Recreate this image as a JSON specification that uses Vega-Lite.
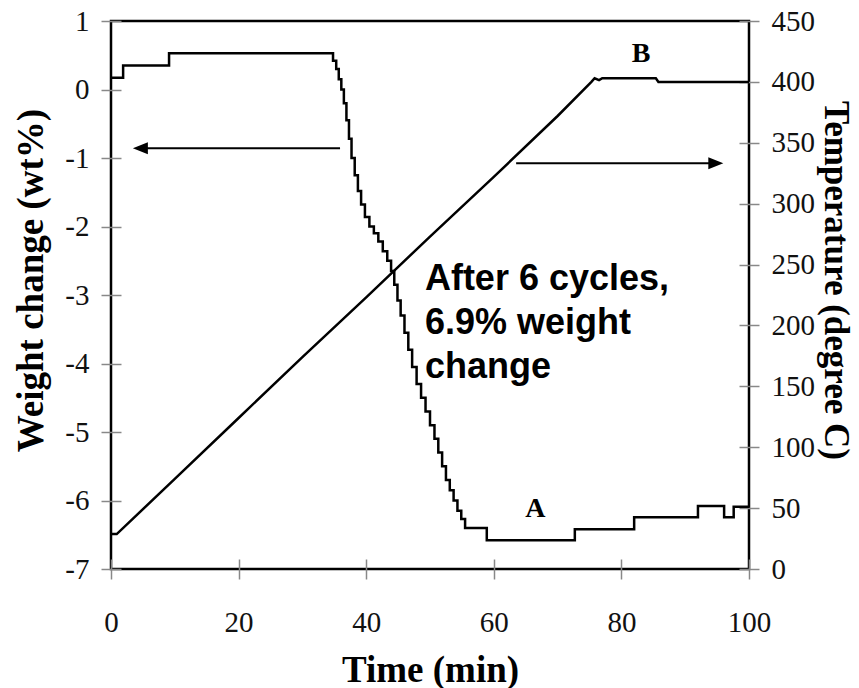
{
  "$schema": "https://vega.github.io/schema/vega-lite/v6.json",
  "width": 638,
  "height": 548,
  "autosize": "none",
  "padding": {"left": 111, "top": 21, "right": 110, "bottom": 119},
  "background": "white",
  "config": {
    "view": {"stroke": "#000", "strokeWidth": 2.5},
    "axis": {
      "grid": false, "domain": false, "offset": -10, "tickSize": 20,
      "tickColor": "#888", "tickWidth": 1.5, "labelFlush": false,
      "labelFont": "Liberation Serif", "labelFontSize": 29, "labelColor": "#111",
      "titleFont": "Liberation Serif", "titleFontSize": 37, "titleFontWeight": "bold", "titleColor": "#000",
      "labelExpr": "'' + datum.value"
    }
  },
  "datasets": {
    "weight": [
      {"t": 0, "w": 0.17}, {"t": 1.9, "w": 0.35}, {"t": 9.1, "w": 0.53}, {"t": 34.8, "w": 0.42},
      {"t": 35.3, "w": 0.3}, {"t": 35.7, "w": 0.15}, {"t": 36.1, "w": 0.0}, {"t": 36.5, "w": -0.2},
      {"t": 36.9, "w": -0.45}, {"t": 37.3, "w": -0.72}, {"t": 37.7, "w": -1.0}, {"t": 38.2, "w": -1.25},
      {"t": 38.7, "w": -1.48}, {"t": 39.2, "w": -1.68}, {"t": 39.8, "w": -1.86}, {"t": 40.5, "w": -2.0},
      {"t": 41.2, "w": -2.1}, {"t": 41.9, "w": -2.22}, {"t": 42.6, "w": -2.36}, {"t": 43.3, "w": -2.5},
      {"t": 43.9, "w": -2.65}, {"t": 44.4, "w": -2.85}, {"t": 44.9, "w": -3.08}, {"t": 45.4, "w": -3.3},
      {"t": 46.0, "w": -3.55}, {"t": 46.6, "w": -3.8}, {"t": 47.2, "w": -4.05}, {"t": 47.9, "w": -4.3},
      {"t": 48.6, "w": -4.5}, {"t": 49.3, "w": -4.7}, {"t": 50.0, "w": -4.9}, {"t": 50.7, "w": -5.1},
      {"t": 51.3, "w": -5.3}, {"t": 51.9, "w": -5.5}, {"t": 52.5, "w": -5.7}, {"t": 53.1, "w": -5.85},
      {"t": 53.7, "w": -6.0}, {"t": 54.3, "w": -6.15}, {"t": 54.9, "w": -6.27}, {"t": 55.5, "w": -6.4},
      {"t": 58.9, "w": -6.58}, {"t": 72.7, "w": -6.42}, {"t": 82.0, "w": -6.245}, {"t": 92.0, "w": -6.08},
      {"t": 96.1, "w": -6.245}, {"t": 97.6, "w": -6.09}, {"t": 100, "w": -6.09}
    ],
    "temp": [
      {"t": 0, "c": 28.7}, {"t": 0.9, "c": 28.7}, {"t": 10, "c": 74}, {"t": 20, "c": 124},
      {"t": 30, "c": 174}, {"t": 40, "c": 223}, {"t": 50, "c": 273}, {"t": 60, "c": 322},
      {"t": 70, "c": 372}, {"t": 75.3, "c": 400}, {"t": 75.8, "c": 403}, {"t": 76.5, "c": 401.5},
      {"t": 77, "c": 403}, {"t": 85.4, "c": 403}, {"t": 85.8, "c": 400}, {"t": 100, "c": 400}
    ]
  },
  "layer": [
    {
      "layer": [
        {
          "data": {"name": "weight"},
          "mark": {"type": "line", "interpolate": "step-after", "color": "#000", "strokeWidth": 2.5},
          "encoding": {
            "x": {"field": "t", "type": "quantitative", "scale": {"domain": [0, 100], "nice": false},
                  "axis": {"title": "Time (min)", "values": [0, 20, 40, 60, 80, 100], "labelPadding": 29, "titlePadding": 15}},
            "y": {"field": "w", "type": "quantitative", "scale": {"domain": [-7, 1], "nice": false, "zero": false},
                  "axis": {"title": "Weight change (wt%)", "values": [-7, -6, -5, -4, -3, -2, -1, 0, 1], "labelPadding": 12, "titlePadding": 14, "titleY": 259}}
          }
        },
        {
          "data": {"values": [{}]},
          "mark": {"type": "rule", "color": "#000", "strokeWidth": 2},
          "encoding": {"x": {"datum": 35.9}, "x2": {"datum": 4.6}, "y": {"datum": -0.858}}
        },
        {
          "data": {"values": [{}]},
          "mark": {"type": "point", "shape": "M-1,0L1,-0.8L1,0.8Z", "filled": true, "color": "#000", "size": 225, "opacity": 1},
          "encoding": {"x": {"datum": 4.6}, "y": {"datum": -0.858}}
        },
        {
          "data": {"values": [{}]},
          "mark": {"type": "rule", "color": "#000", "strokeWidth": 2},
          "encoding": {"x": {"datum": 63.5}, "x2": {"datum": 94.8}, "y": {"datum": -1.078}}
        },
        {
          "data": {"values": [{}]},
          "mark": {"type": "point", "shape": "M1,0L-1,-0.8L-1,0.8Z", "filled": true, "color": "#000", "size": 225, "opacity": 1},
          "encoding": {"x": {"datum": 94.8}, "y": {"datum": -1.078}}
        },
        {
          "data": {"values": [{}]},
          "mark": {"type": "text", "text": "A", "font": "Liberation Serif", "fontSize": 28, "fontWeight": "bold", "align": "center", "baseline": "alphabetic", "color": "#000"},
          "encoding": {"x": {"datum": 66.5}, "y": {"datum": -6.24}}
        },
        {
          "data": {"values": [{}]},
          "mark": {"type": "text", "text": "B", "font": "Liberation Serif", "fontSize": 28, "fontWeight": "bold", "align": "center", "baseline": "alphabetic", "color": "#000"},
          "encoding": {"x": {"datum": 83.1}, "y": {"datum": 0.406}}
        },
        {
          "data": {"values": [{}]},
          "mark": {"type": "text", "text": ["After 6 cycles,", "6.9% weight", "change"], "font": "Liberation Sans", "fontSize": 36, "fontWeight": "bold", "align": "left", "baseline": "alphabetic", "lineHeight": 44, "color": "#000"},
          "encoding": {"x": {"datum": 49.2}, "y": {"datum": -2.927}}
        }
      ]
    },
    {
      "data": {"name": "temp"},
      "mark": {"type": "line", "color": "#000", "strokeWidth": 2.5},
      "encoding": {
        "x": {"field": "t", "type": "quantitative"},
        "y": {"field": "c", "type": "quantitative", "scale": {"domain": [0, 450], "nice": false},
              "axis": {"orient": "right", "title": "Temperature (degree C)", "titleFontSize": 35, "values": [0, 50, 100, 150, 200, 250, 300, 350, 400, 450], "labelPadding": 12, "titlePadding": 3, "titleY": 259}}
      }
    }
  ],
  "resolve": {"scale": {"y": "independent"}}
}
